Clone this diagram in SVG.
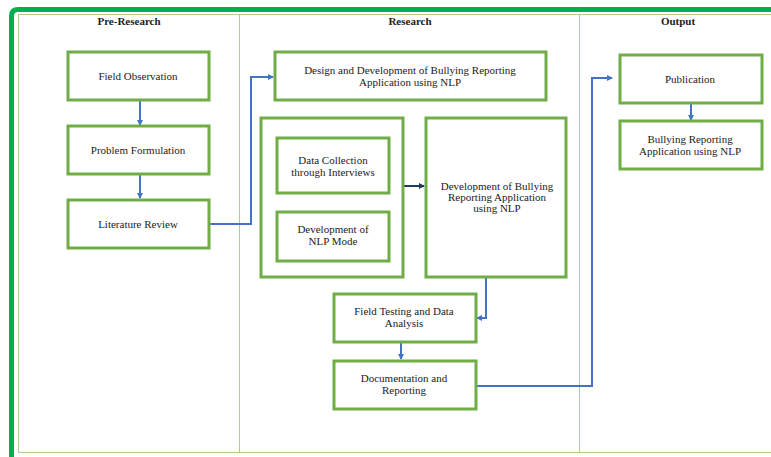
<svg xmlns="http://www.w3.org/2000/svg" width="771" height="457" viewBox="0 0 771 457">
<style>
.box{fill:#fff;stroke:#70ad47;stroke-width:3}
.t{font-family:"Liberation Serif","Times New Roman",serif;font-size:11px;fill:#222;text-anchor:middle}
.h{font-weight:bold}
.c{fill:none;stroke:#4472c4;stroke-width:2}
.d{fill:none;stroke:#1f3864;stroke-width:2}
</style>
<defs>
<marker id="a" markerWidth="6" markerHeight="6" refX="5" refY="3" orient="auto" markerUnits="userSpaceOnUse"><path d="M0,0 L6,3 L0,6 Z" fill="#4472c4"/></marker>
<marker id="ad" markerWidth="6" markerHeight="6" refX="5" refY="3" orient="auto" markerUnits="userSpaceOnUse"><path d="M0,0 L6,3 L0,6 Z" fill="#1f3864"/></marker>
</defs>
<rect width="771" height="457" fill="#fff"/>
<g id="frame">
<path d="M11.5,460 V16 Q11.5,9.5 18,9.5 H780" fill="none" stroke="#00b050" stroke-width="5"/>
<rect x="18.5" y="14.5" width="770" height="438" fill="none" stroke="#a9d18e" stroke-width="1"/>
<line x1="239.5" y1="14.5" x2="239.5" y2="452.5" stroke="#a9d18e" stroke-width="1"/>
<line x1="579.5" y1="14.5" x2="579.5" y2="452.5" stroke="#a9d18e" stroke-width="1"/>
<text class="t h" x="129" y="25">Pre-Research</text>
<text class="t h" x="410" y="25">Research</text>
<text class="t h" x="678" y="25">Output</text>
</g>
<g id="connectors">
<path class="c" d="M140,101 V125" marker-end="url(#a)"/>
<path class="c" d="M140,175 V198" marker-end="url(#a)"/>
<path class="c" d="M209,224 H251 V77 H273" marker-end="url(#a)"/>
<path class="c" d="M333,194 V211" marker-end="url(#a)"/>
<path class="d" d="M403,186 H424" marker-end="url(#ad)"/>
<path class="c" d="M486,277 V318 H477" marker-end="url(#a)"/>
<path class="c" d="M401,343 V359" marker-end="url(#a)"/>
<path class="c" d="M476,386 H592 V78 H612" marker-end="url(#a)"/>
<path class="c" d="M691,104 V120" marker-end="url(#a)"/>
</g>
<g id="field-observation"><rect class="box" x="68" y="52" width="141" height="48"/><text class="t" x="138" y="80">Field Observation</text></g>
<g id="problem-formulation"><rect class="box" x="68" y="126" width="141" height="48"/><text class="t" x="138" y="154">Problem Formulation</text></g>
<g id="literature-review"><rect class="box" x="68" y="200" width="141" height="48"/><text class="t" x="138" y="228">Literature Review</text></g>
<g id="design-development"><rect class="box" x="275" y="52" width="271" height="48"/><text class="t" x="410" y="74">Design and Development of Bullying Reporting</text><text class="t" x="410" y="86">Application using NLP</text></g>
<g id="container"><rect class="box" x="261" y="118" width="142" height="159"/></g>
<g id="data-collection"><rect class="box" x="277" y="138" width="112" height="55"/><text class="t" x="333" y="164">Data Collection</text><text class="t" x="333" y="176">through Interviews</text></g>
<g id="nlp-mode"><rect class="box" x="277" y="212" width="112" height="49"/><text class="t" x="333" y="233">Development of</text><text class="t" x="333" y="245">NLP Mode</text></g>
<g id="dev-bullying-app"><rect class="box" x="426" y="118" width="140" height="159"/><text class="t" x="497" y="190">Development of Bullying</text><text class="t" x="497" y="201">Reporting Application</text><text class="t" x="497" y="212">using NLP</text></g>
<g id="field-testing"><rect class="box" x="334" y="294" width="142" height="48"/><text class="t" x="404" y="315">Field Testing and Data</text><text class="t" x="404" y="327">Analysis</text></g>
<g id="documentation"><rect class="box" x="334" y="361" width="142" height="48"/><text class="t" x="404" y="382">Documentation and</text><text class="t" x="404" y="394">Reporting</text></g>
<g id="publication"><rect class="box" x="620" y="55" width="142" height="48"/><text class="t" x="690" y="83">Publication</text></g>
<g id="bullying-app-output"><rect class="box" x="620" y="121" width="142" height="48"/><text class="t" x="690" y="143">Bullying Reporting</text><text class="t" x="690" y="155">Application using NLP</text></g>
</svg>
